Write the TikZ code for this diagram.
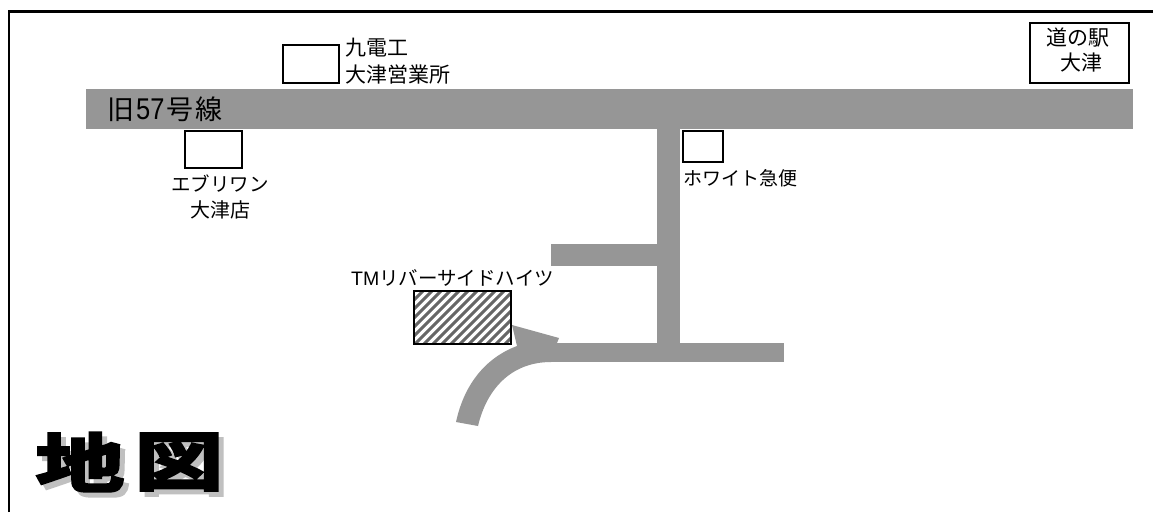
\documentclass[tikz,border=0pt]{standalone}
\usepackage{fontspec}
\newfontfamily\cjk{Noto Sans CJK JP}
\newfontfamily\cjkb[FakeBold=4]{Noto Sans CJK JP Bold}
\newfontfamily\lat{Liberation Sans}
\newfontfamily\latn[FakeStretch=0.85]{Liberation Sans}
\definecolor{road}{HTML}{969696}
\definecolor{shadowgray}{HTML}{C0C0C0}
\tikzset{
  roadfill/.style={fill=road,draw=none},
  shop/.style={draw=black,line width=1.2pt,fill=white},
  lbl/.style={inner sep=0pt,align=center,font=\cjk\fontsize{20}{26.5}\selectfont,text=black},
  lbll/.style={lbl,align=left},
  title/.style={inner sep=0pt,xscale=1.38,transform shape,font=\cjkb\fontsize{64}{64}\selectfont}
}
\begin{document}
\begin{tikzpicture}[x=1pt,y=-1pt]
\useasboundingbox (0,0) rectangle (1153,512);
\fill[white] (0,0) rectangle (1153,512);
% frame
\draw[line width=2.6pt] (9,512) -- (9,11.5) -- (1153,11.5);
% roads
\fill[roadfill] (86,89) rectangle (1133,129);
\fill[roadfill] (657,129) rectangle (680,345);
\fill[roadfill] (551,244) rectangle (657,266);
\fill[roadfill] (551,343) rectangle (784,362);
\fill[roadfill] (456,422) .. controls (464,385) and (485,358) .. (517,346)
  -- (512,325) -- (559,338) -- (557,343) -- (551,343) -- (551,362)
  .. controls (512,362) and (487,388) .. (478,426) -- cycle;
% shops
\draw[shop] (283,45) rectangle (339,83);
\draw[shop] (185,131) rectangle (242,168);
\draw[shop] (683,131) rectangle (723,162);
\draw[shop] (1030,23) rectangle (1129,83);
% hatched building
\begin{scope}
\clip (414,291) rectangle (511,344);
\foreach \k in {-8,...,14}{
  \draw[line width=3pt,draw=black!60] (400+\k*9,350) -- (470+\k*9,280);
}
\end{scope}
\draw[line width=1.2pt] (414,291) rectangle (511,344);
% labels
\node[lbll,anchor=west,font=\cjk\fontsize{21}{27}\selectfont] (kyuden) at (345,61.5) {九電工\\大津営業所};
\node[lbl,anchor=center] (every) at (220,197) {{\fontsize{19.5}{26.5}\selectfont エブリワン}\\大津店};
\node[lbll,anchor=west,font=\cjk\fontsize{19}{19}\selectfont] (white) at (683,178) {ホワイト急便};
\node[lbl,anchor=center,font=\cjk\fontsize{21}{25}\selectfont] (michi) at (1078,50.5) {道の駅\\\hspace*{6pt}大津};
\node[inner sep=0pt,anchor=west,font=\cjk\fontsize{27}{27}\selectfont] (route) at (107,109) {旧\hspace{2pt}{\latn\fontsize{30}{30}\selectfont 57}\hspace{2pt}号\hspace{2pt}線};
\node[inner sep=0pt,anchor=west,font=\cjk\fontsize{19.5}{19.5}\selectfont] (tm) at (351,278) {{\lat TM}リバーサイドハイツ};
% title
\node[title,text=shadowgray,anchor=center] (ts1) at (85,467) {地};
\node[title,text=shadowgray,anchor=center] (ts2) at (184,467) {図};
\node[title,text=black,anchor=center] (t1) at (80,462) {地};
\node[title,text=black,anchor=center] (t2) at (179,462) {図};
\end{tikzpicture}
\end{document}
